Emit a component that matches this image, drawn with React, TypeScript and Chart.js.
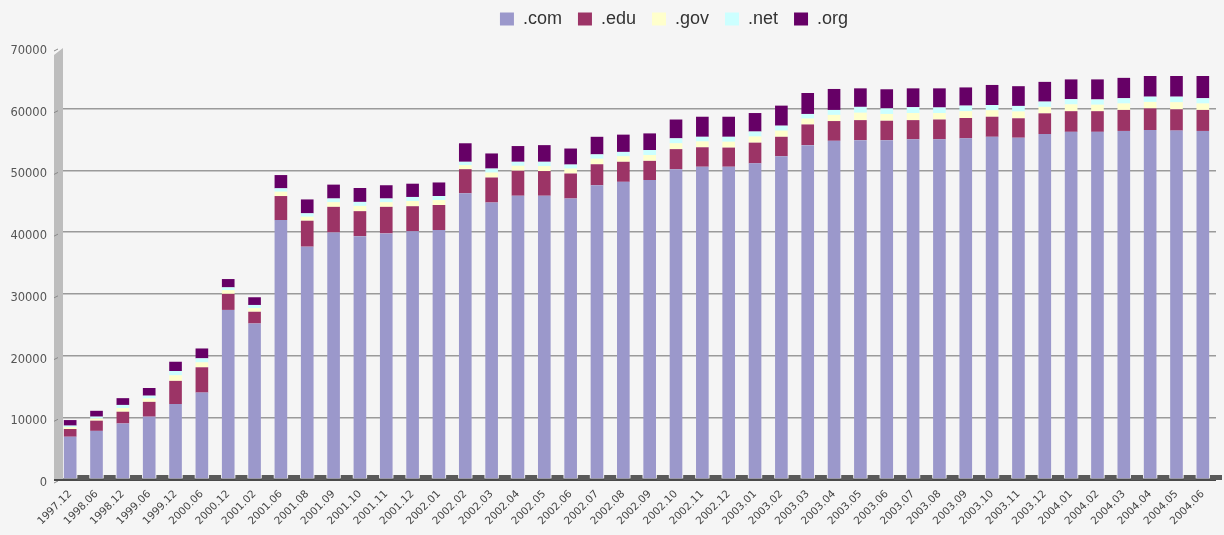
import React, { useEffect, useRef } from "react";
import { Chart, registerables } from "chart.js";

Chart.register(...registerables);

const categories = [
  "1997.12", "1998.06", "1998.12", "1999.06", "1999.12", "2000.06", "2000.12", "2001.02",
  "2001.06", "2001.08", "2001.09", "2001.10", "2001.11", "2001.12", "2002.01", "2002.02",
  "2002.03", "2002.04", "2002.05", "2002.06", "2002.07", "2002.08", "2002.09", "2002.10",
  "2002.11", "2002.12", "2003.01", "2003.02", "2003.03", "2003.04", "2003.05", "2003.06",
  "2003.07", "2003.08", "2003.09", "2003.10", "2003.11", "2003.12", "2004.01", "2004.02",
  "2004.03", "2004.04", "2004.05", "2004.06",
];

const comValues = [
  6850, 7800, 9000, 10100, 12150, 14000, 27400, 25200,
  41950, 37650, 39950, 39350, 39800, 40150, 40350, 46300,
  44800, 45900, 45900, 45450, 47600, 48150, 48450, 50200,
  50600, 50600, 51150, 52300, 54100, 54800, 54900, 54900,
  55050, 55050, 55200, 55450, 55300, 55900, 56250, 56250,
  56400, 56550, 56450, 56400,
];

const eduValues = [
  1250, 1650, 1900, 2400, 3750, 4100, 2600, 1900,
  3900, 4200, 4150, 4050, 4300, 4050, 4050, 3900,
  4050, 4050, 4000, 4050, 3400, 3250, 3100, 3250,
  3150, 3100, 3350, 3150, 3350, 3200, 3250, 3150,
  3100, 3200, 3300, 3250, 3150, 3350, 3350, 3350,
  3400, 3500, 3450, 3400,
];

const govValues = [
  300, 350, 600, 550, 900, 800, 600, 600,
  700, 650, 750, 850, 750, 850, 800, 650,
  800, 800, 800, 800, 900, 900, 950, 950,
  950, 950, 1000, 1000, 950, 1000, 1200, 1100,
  1150, 1050, 1100, 1050, 1100, 1050, 1100, 1050,
  1050, 1050, 1150, 1050,
];

const netValues = [
  250, 300, 500, 450, 700, 650, 450, 500,
  550, 550, 600, 650, 600, 650, 650, 550,
  650, 650, 700, 650, 700, 700, 800, 800,
  750, 800, 800, 800, 750, 800, 950, 900,
  950, 900, 900, 850, 900, 850, 850, 850,
  850, 850, 900, 850,
];

const orgValues = [
  900, 950, 1100, 1250, 1500, 1600, 1350, 1250,
  2150, 2250, 2250, 2250, 2150, 2150, 2200, 3000,
  2450, 2550, 2700, 2600, 2850, 2800, 2700, 3050,
  3250, 3250, 3000, 3250, 3400, 3400, 3000, 3100,
  3050, 3100, 2950, 3250, 3200, 3200, 3200, 3250,
  3300, 3350, 3350, 3600,
];

const seriesNames = [".com", ".edu", ".gov", ".net", ".org"];
const seriesColors = ["#9b98cb", "#9c3466", "#ffffcc", "#ccffff", "#660066"];

const yMin = 0;
const yMax = 70000;
const yStep = 10000;

export default function App() {
  const canvasRef = useRef<HTMLCanvasElement | null>(null);

  useEffect(() => {
    const canvas = canvasRef.current;
    if (!canvas) return;

    const bgPlugin = {
      id: "bgFill",
      beforeDraw(chart: any) {
        const ctx = chart.ctx;
        ctx.save();
        ctx.fillStyle = "#f5f5f5";
        ctx.fillRect(0, 0, chart.width, chart.height);
        ctx.restore();
      },
    };

    const legendShift = {
      id: "legendShift",
      afterLayout(chart: any) {
        const lg = chart.legend;
        if (lg) {
          lg.left += 66;
          lg.right += 66;
          lg.top -= 9;
          lg.bottom -= 9;
        }
      },
    };

    const wallPlugin = {
      id: "wall3d",
      beforeDatasetsDraw(chart: any) {
        const { ctx, chartArea, scales } = chart;
        const ys = scales.y;
        const xs = scales.x;
        const top = ys.getPixelForValue(yMax);
        const bottom = ys.getPixelForValue(yMin);
        const L = chartArea.left;
        ctx.save();
        // side wall
        ctx.fillStyle = "#bdbdbd";
        ctx.beginPath();
        ctx.moveTo(L - 3, bottom + 2);
        ctx.lineTo(L - 3, top + 8);
        ctx.lineTo(L + 6, top + 1);
        ctx.lineTo(L + 6, bottom);
        ctx.closePath();
        ctx.fill();
        // tick marks on wall
        ctx.strokeStyle = "#8a8a8a";
        ctx.lineWidth = 1;
        for (let v = yMin; v <= yMax; v += yStep) {
          const py = ys.getPixelForValue(v) + 4;
          ctx.beginPath();
          ctx.moveTo(L - 3, py);
          ctx.lineTo(L + 1, py - 2);
          ctx.stroke();
        }
        // floor edge
        ctx.fillStyle = "#4a4a4a";
        ctx.fillRect(L - 3, bottom, chartArea.right - L + 3, 2);
        const slot = (chartArea.right - chartArea.left) / categories.length;
        for (let i = 0; i < categories.length; i++) {
          const cx = xs.getPixelForValue(i) + slot / 2;
          ctx.fillStyle = "#5a5a5a";
          ctx.fillRect(cx - 6, bottom - 4, 12, 5);
        }
        ctx.restore();
      },
    };

    const valueSets = [comValues, eduValues, govValues, netValues, orgValues];

    const chart = new Chart(canvas, {
      type: "bar",
      data: {
        labels: categories,
        datasets: seriesNames.map((name, i) => ({
          label: name,
          data: valueSets[i],
          backgroundColor: seriesColors[i],
          borderWidth: 0,
          barPercentage: 0.48,
          categoryPercentage: 1,
        })),
      },
      options: {
        responsive: false,
        animation: false,
        devicePixelRatio: 1,
        layout: { padding: { top: 3, left: 0, right: 8, bottom: 0 } },
        plugins: {
          legend: {
            position: "top",
            labels: {
              boxWidth: 14,
              boxHeight: 13,
              padding: 16,
              color: "#333333",
              font: { family: "'Liberation Sans', Arial, sans-serif", size: 18 },
            },
          },
          tooltip: { enabled: false },
        },
        scales: {
          x: {
            stacked: true,
            grid: { display: false, drawTicks: false },
            border: { display: false },
            ticks: {
              autoSkip: false,
              maxRotation: 45,
              minRotation: 45,
              padding: 9,
              color: "#444444",
              font: { family: "'DejaVu Sans', Verdana, sans-serif", size: 10.5 },
            },
            afterFit(scale: any) {
              scale.height = 56;
            },
          },
          y: {
            stacked: true,
            min: yMin,
            max: yMax,
            ticks: {
              stepSize: yStep,
              padding: 10,
              labelOffset: 4,
              color: "#555555",
              font: { family: "'DejaVu Sans', Verdana, sans-serif", size: 11.5 },
              callback: (v: any) => String(v),
            },
            grid: {
              color: (c: any) => (c.tick && c.tick.value === yMax ? "rgba(0,0,0,0)" : "#9a9a9a"),
              lineWidth: 1.5,
              drawTicks: false,
            },
            border: { display: false },
            afterFit(scale: any) {
              scale.width = 57;
            },
          },
        },
      },
      plugins: [bgPlugin, legendShift, wallPlugin],
    });

    return () => {
      chart.destroy();
    };
  }, []);

  return (
    <canvas
      ref={canvasRef}
      width={1224}
      height={535}
      style={{ position: "absolute", left: 0, top: 0, display: "block" }}
    />
  );
}
